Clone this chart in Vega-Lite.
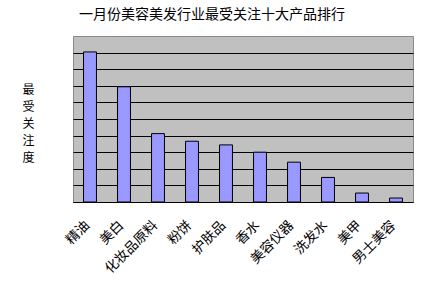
{
  "$schema": "https://vega.github.io/schema/vega-lite/v6.json",
  "width": 340,
  "height": 166,
  "autosize": {"type": "none"},
  "padding": {"left": 73, "top": 36, "right": 9, "bottom": 80},
  "background": "white",
  "title": {
    "text": "一月份美容美发行业最受关注十大产品排行",
    "font": "Noto Sans CJK SC",
    "fontSize": 14,
    "fontWeight": "normal",
    "color": "black",
    "anchor": "middle",
    "dx": -31,
    "offset": 14
  },
  "data": {
    "values": [
      {"product": "精油", "value": 9.04},
      {"product": "美白", "value": 6.94},
      {"product": "化妆品原料", "value": 4.12},
      {"product": "粉饼", "value": 3.66},
      {"product": "护肤品", "value": 3.44},
      {"product": "香水", "value": 3.0},
      {"product": "美容仪器", "value": 2.4},
      {"product": "洗发水", "value": 1.48},
      {"product": "美甲", "value": 0.54},
      {"product": "男士美容", "value": 0.24}
    ]
  },
  "config": {
    "view": {"fill": "#c0c0c0", "stroke": "#8a8a8a", "strokeWidth": 1}
  },
  "mark": {"type": "bar", "fill": "#9999ff", "stroke": "black", "strokeWidth": 1},
  "encoding": {
    "x": {
      "field": "product",
      "type": "nominal",
      "sort": null,
      "scale": {"paddingInner": 0.62, "paddingOuter": 0.31},
      "axis": {
        "title": null,
        "labelAngle": -45,
        "labelAlign": "right",
        "labelBaseline": "top",
        "labelFont": "Noto Sans CJK SC",
        "labelFontSize": 13.5,
        "labelColor": "black",
        "labelPadding": 20,
        "labelOffset": -8,
        "tickBand": "extent",
        "tickSize": -4,
        "tickColor": "black",
        "domainColor": "black",
        "grid": false
      }
    },
    "y": {
      "field": "value",
      "type": "quantitative",
      "scale": {"domain": [0, 10], "nice": false},
      "axis": {
        "values": [0, 1, 2, 3, 4, 5, 6, 7, 8, 9],
        "labels": false,
        "ticks": false,
        "domain": false,
        "grid": true,
        "gridColor": "black",
        "gridOpacity": 1,
        "gridWidth": 1,
        "title": ["最", "受", "关", "注", "度"],
        "titleAngle": 0,
        "titleFont": "Noto Sans CJK SC",
        "titleFontSize": 12,
        "titleFontWeight": "normal",
        "titleColor": "black",
        "titleAlign": "center",
        "titleBaseline": "top",
        "titleLineHeight": 17,
        "titleX": -45,
        "titleY": 48
      }
    }
  }
}
